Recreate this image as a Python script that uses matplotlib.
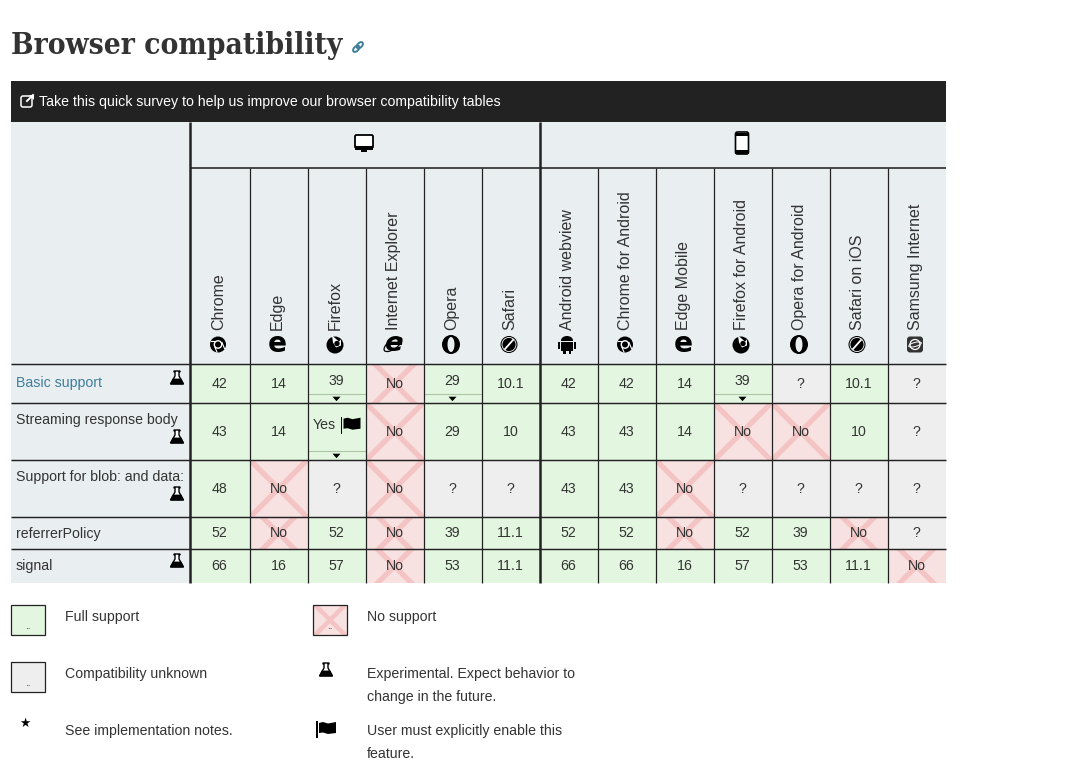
import matplotlib
matplotlib.use("Agg")
import matplotlib.pyplot as plt
from matplotlib.patches import Rectangle, Circle, Ellipse, Polygon, FancyBboxPatch

plt.rcParams["text.hinting"] = "force_autohint"
plt.rcParams["text.hinting_factor"] = 8

desktop = ["Chrome", "Edge", "Firefox", "Internet Explorer", "Opera", "Safari"]
mobile = ["Android webview", "Chrome for Android", "Edge Mobile", "Firefox for Android",
          "Opera for Android", "Safari on iOS", "Samsung Internet"]
browsers = desktop + mobile
icons = ["chrome", "edge", "firefox", "ie", "opera", "safari",
         "android", "chrome", "edge", "firefox", "opera", "safari", "samsung"]
features = ["Basic support", "Streaming response body", "Support for blob: and data:",
            "referrerPolicy", "signal"]
basic = ["42", "14", "39", "No", "29", "10.1", "42", "42", "14", "39", "?", "10.1", "?"]
streaming = ["43", "14", "Yes", "No", "29", "10", "43", "43", "14", "No", "No", "10", "?"]
blob = ["48", "No", "?", "No", "?", "?", "43", "43", "No", "?", "?", "?", "?"]
referrer = ["52", "No", "52", "No", "39", "11.1", "52", "52", "No", "52", "39", "No", "?"]
signal = ["66", "16", "57", "No", "53", "11.1", "66", "66", "16", "57", "53", "11.1", "No"]
table = [basic, streaming, blob, referrer, signal]
experimental = [True, True, True, False, True]
expandable = [(0, 2), (0, 4), (0, 9), (1, 2)]

col_edges = [189.5, 249.5, 307.5, 365.5, 423.5, 481.5, 539.5, 597.5, 655.5, 713.5, 771.5, 829.5, 887.5, 945.5]
row_edges = [364.2, 403.2, 460.2, 517.2, 549.2, 583]
GREEN, RED, GRAY, HEAD = "#e3f7e0", "#f8e1e1", "#eeeeee", "#e9eef1"
CROSS, INK, LINE, BLUE = "#f4c4c4", "#333333", "#222222", "#3d7e9a"
SANS = "Liberation Sans"
PX = 0.72

fig = plt.figure(figsize=(10.91, 7.78), dpi=100, facecolor="white")
ax = fig.add_axes([0, 0, 1, 1])
ax.set_xlim(0, 1091)
ax.set_ylim(778, 0)
ax.axis("off")


def label(x, y, s, px=14.17, color=INK, **kw):
    kw.setdefault("ha", "left")
    kw.setdefault("va", "center")
    kw.setdefault("family", SANS)
    if "rotation" not in kw:
        y += 1
    return ax.text(x, y, s, fontsize=px * PX, color=color, zorder=6, **kw)


def rect(x0, y0, x1, y1, fc, ec="none", lw=0, z=1):
    p = Rectangle((x0, y0), x1 - x0, y1 - y0, fc=fc, ec=ec, lw=lw, zorder=z)
    ax.add_patch(p)
    return p


def cross(clip, cx, cy, reach, lw=3.8):
    for s in (1, -1):
        ln, = ax.plot([cx - reach, cx + reach], [cy - s * reach, cy + s * reach],
                      color=CROSS, lw=lw, solid_capstyle="butt", zorder=2)
        ln.set_clip_path(clip)


def flask(x, y, color="black"):
    ax.add_patch(Polygon([(x - 3, y - 8), (x + 3, y - 8), (x + 3, y - 7), (x + 2, y - 7), (x + 2, y - 3),
                          (x + 6.5, y + 5), (x - 6.5, y + 5), (x - 2, y - 3), (x - 2, y - 7), (x - 3, y - 7)],
                         fc="white", ec=color, lw=1, zorder=6))
    ax.add_patch(Polygon([(x - 4, y), (x + 4, y), (x + 6.5, y + 5), (x - 6.5, y + 5)], fc=color, ec=color,
                         lw=.6, zorder=7))


def flag(x, y):
    rect(x - 10, y - 8, x - 8.5, y + 9, "black", z=7)
    ax.add_patch(Polygon([(x - 7, y - 6), (x - 3, y - 7), (x + 2, y - 5.5), (x + 10, y - 7), (x + 10, y + 4),
                          (x + 2, y + 5), (x - 3, y + 3.5), (x - 7, y + 4)], fc="black", ec="none", zorder=7))


def triangle(x, y):
    ax.add_patch(Polygon([(x - 4, y - 2), (x + 4, y - 2), (x, y + 2.5)], fc="black", ec="none", zorder=6))


def icon(kind, x, y):
    if kind == "chrome":
        ax.add_patch(Circle((x, y), 8, fc="black", zorder=6))
        ax.add_patch(Circle((x, y), 4.4, fc="white", zorder=7))
        ax.add_patch(Circle((x, y), 3, fc="black", zorder=8))
        ax.plot([x - 7, x - 1], [y - 3.5, y - 3.5], color="white", lw=.8, zorder=7)
        ax.plot([x + 4, x + 6.5], [y - 2, y + 4], color="white", lw=.8, zorder=7)
        ax.plot([x - 3, x - 1], [y + 3, y + 7.5], color="white", lw=.8, zorder=7)
    elif kind == "edge":
        ax.text(x, y - .5, "e", fontsize=28 * PX, family="DejaVu Sans", weight="bold", color="black",
                ha="center", va="center", zorder=6)
    elif kind == "ie":
        ax.text(x, y - .5, "e", fontsize=27 * PX, family="DejaVu Sans", weight="bold", style="italic",
                color="black", ha="center", va="center", zorder=6)
        ax.add_patch(Ellipse((x, y), 21, 9, angle=-35, fc="none", ec="black", lw=.9, zorder=6))
    elif kind == "firefox":
        ax.add_patch(Circle((x, y + .5), 8.5, fc="black", zorder=6))
        ax.add_patch(Polygon([(x - 3, y - 9), (x + 4, y - 3), (x + 6, y - 5), (x + 6, y + 1), (x + 1, y + 3),
                              (x - 2, y - 2)], fc="white", ec="none", zorder=7))
        ax.add_patch(Circle((x + 2, y - 1), 2.7, fc="black", zorder=8))
    elif kind == "opera":
        ax.add_patch(Ellipse((x, y), 18, 19, fc="black", zorder=6))
        ax.add_patch(Ellipse((x, y), 7, 15, fc=HEAD, zorder=7))
    elif kind == "safari":
        ax.add_patch(Circle((x, y), 8.5, fc="black", zorder=6))
        ax.add_patch(Circle((x, y), 7, fc="none", ec="white", lw=.6, zorder=7))
        ax.plot([x - 4, x + 4], [y + 4.5, y - 4.5], color="white", lw=1.3, zorder=7)
    elif kind == "android":
        ax.add_patch(Ellipse((x, y - 4), 12, 9, fc="black", zorder=6))
        rect(x - 6, y - 3, x + 6, y + 6, "black", z=6)
        rect(x - 9, y - 3, x - 7, y + 4, "black", z=6)
        rect(x + 7, y - 3, x + 9, y + 4, "black", z=6)
        rect(x - 4, y + 6, x - 1.5, y + 9, "black", z=6)
        rect(x + 1.5, y + 6, x + 4, y + 9, "black", z=6)
        rect(x - 6, y - 3.7, x + 6, y - 3, HEAD, z=7)
    elif kind == "samsung":
        ax.add_patch(FancyBboxPatch((x - 6, y - 6), 12, 12, boxstyle="round,pad=2,rounding_size=3",
                                    fc="#333333", ec="none", zorder=6))
        ax.add_patch(Circle((x, y), 5, fc="none", ec="white", lw=.9, zorder=7))
        ax.add_patch(Ellipse((x, y), 13, 4, angle=-15, fc="none", ec="white", lw=.7, zorder=7))


# Title and survey banner
ax.text(11, 45.5, "Browser compatibility", fontsize=29.7 * PX, family="DejaVu Serif", stretch="condensed",
        weight="bold", color=INK, ha="left", va="center", zorder=6)
for dx, dy in ((-1.8, 1.8), (1.8, -1.8)):
    ax.add_patch(Ellipse((358 + dx, 47 + dy), 7.5, 4.5, angle=-45, fc="none", ec=BLUE, lw=1.4, zorder=6))
rect(11, 81, 946, 122, LINE, z=1)
ax.add_patch(FancyBboxPatch((22, 97), 9, 9, boxstyle="round,pad=1,rounding_size=2", fc="none", ec="white",
                            lw=1.1, zorder=6))
ax.plot([27, 33], [101, 95], color="white", lw=1.4, zorder=7)
ax.add_patch(Polygon([(29, 94.5), (34, 94.5), (34, 99.5)], fc="white", ec="none", zorder=7))
label(39, 101, "Take this quick survey to help us improve our browser compatibility tables", color="white")

# Header
rect(11, 122, 946, row_edges[0], HEAD)
rect(11, row_edges[0], col_edges[0], row_edges[-1], HEAD)
for i, name in enumerate(browsers):
    cx = (col_edges[i] + col_edges[i + 1]) / 2
    label(cx - 1, 330, name, px=16, rotation=90, ha="center", va="bottom")
    icon(icons[i], cx - 1.5, 344.5)

# Platform icons
ax.add_patch(FancyBboxPatch((356, 136), 16, 11, boxstyle="round,pad=1,rounding_size=1.5", fc="white", ec="black",
                            lw=1.3, zorder=6))
rect(355, 146, 373, 150, "black", z=7)
rect(361, 150, 367, 152, "black", z=7)
ax.add_patch(FancyBboxPatch((736.5, 133), 11, 20, boxstyle="round,pad=1,rounding_size=2", fc="white", ec="black",
                            lw=1.2, zorder=6))
rect(735, 133, 749, 136, "black", z=7)
rect(735, 150, 749, 154, "black", z=7)

# Cells
for r, values in enumerate(table):
    y0, y1 = row_edges[r], row_edges[r + 1]
    cy = (y0 + y1) / 2
    for c, v in enumerate(values):
        x0, x1 = col_edges[c], col_edges[c + 1]
        cx = (x0 + x1) / 2
        fc = RED if v == "No" else GRAY if v == "?" else GREEN
        cell = rect(x0, y0, x1, y1, fc)
        if v == "No":
            cross(cell, cx, cy, 40)
        if (r, c) in expandable:
            ly = y1 - 9
            ax.plot([x0, x1], [ly, ly], color="#aec4a9", lw=.8, zorder=3)
            triangle(cx, y1 - 4.5)
            if v == "Yes":
                label(cx - 1, cy - 7.5, v, ha="right")
                flag(cx + 14, cy - 7)
            else:
                label(cx, cy - 3.5, v, ha="center")
        else:
            label(cx, cy - 1, v, ha="center")

# Row labels
label_y = [382, 419, 476, 533, 565]
flask_y = [379, 438, 495, None, 562]
for r, name in enumerate(features):
    label(16, label_y[r], name, color=BLUE if r == 0 else INK)
    if experimental[r]:
        flask(177, flask_y[r])

# Grid
for y in row_edges[:-1]:
    ax.plot([11, 946], [y, y], color=LINE, lw=1.05, zorder=4, solid_capstyle="butt")
ax.plot([col_edges[0], 946], [167.5, 167.5], color=LINE, lw=1.15, zorder=4, solid_capstyle="butt")
for x in col_edges[1:-1]:
    thick = x == col_edges[6]
    ax.plot([x, x], [122 if thick else 167.5, 583], color=LINE, lw=1.8 if thick else .9, zorder=4,
            solid_capstyle="butt")
ax.plot([col_edges[0]] * 2, [122, 583], color=LINE, lw=1.8, zorder=4, solid_capstyle="butt")

# Legend
for x0, y0, fc, crossed in ((11, 605, GREEN, False), (313, 605, RED, True), (11, 662, GRAY, False)):
    box = rect(x0, y0, x0 + 34, y0 + 30, fc)
    rect(x0, y0, x0 + 34, y0 + 30, "none", ec=LINE, lw=.9, z=3)
    if crossed:
        cross(box, x0 + 17, y0 + 15, 20, lw=3.2)
    label(x0 + 17, y0 + 20, "..", px=10, ha="center", color=LINE)
label(65, 616, "Full support")
label(367, 616, "No support")
label(65, 673, "Compatibility unknown")
label(367, 673, "Experimental. Expect behavior to")
label(367, 696, "change in the future.")
label(65, 730, "See implementation notes.")
label(367, 730, "User must explicitly enable this")
label(367, 753, "feature.")
flask(326, 671)
flag(326, 729)
ax.text(24.5, 723, "★", fontsize=9, family="DejaVu Sans", color="black", ha="center", va="center", zorder=6)

fig.savefig("out.png", dpi=100, facecolor="white")
